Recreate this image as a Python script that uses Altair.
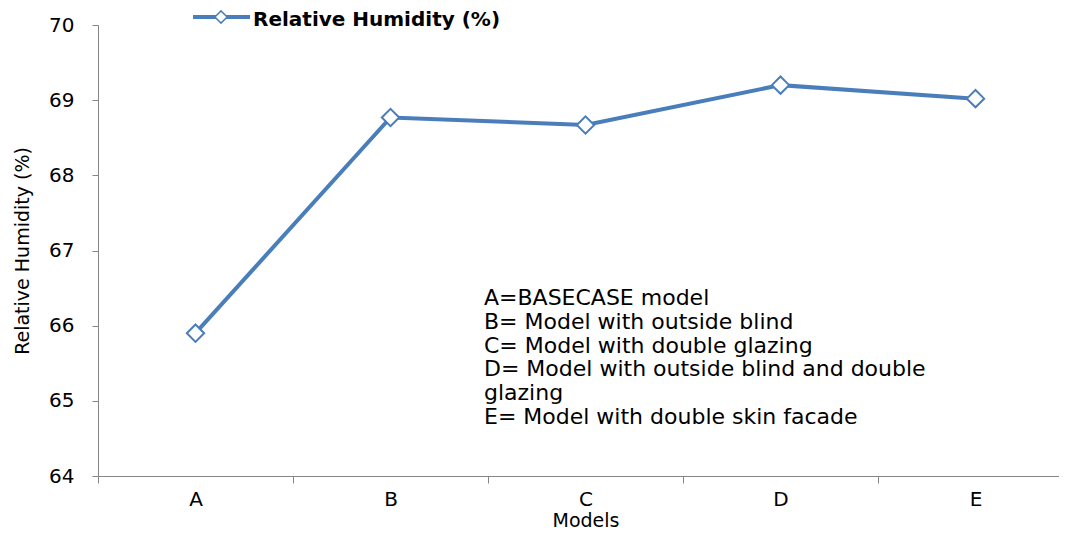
import altair as alt
import pandas as pd

models = ["A", "B", "C", "D", "E"]
rh_values = [65.90, 68.77, 68.67, 69.20, 69.02]
y_ticks = [64, 65, 66, 67, 68, 69, 70]
notes = [
    "A=BASECASE model",
    "B= Model with outside blind",
    "C= Model with double glazing",
    "D= Model with outside blind and double",
    "glazing",
    "E= Model with double skin facade",
]
legend_label = "Relative Humidity (%)"

BLUE = "#4a7ebb"
AXIS = "#868686"
FONT = "DejaVu Sans"

df = pd.DataFrame({"Model": models, "RH": rh_values})
one = pd.DataFrame({"k": [0]})

x_enc = alt.X(
    "Model:N",
    sort=models,
    scale=alt.Scale(type="band", paddingInner=0, paddingOuter=0),
    axis=alt.Axis(
        title="Models",
        labelAngle=0,
        tickBand="extent",
        tickSize=7,
        labelPadding=6,
        labelFontSize=20,
        labelColor="black",
        titleFontSize=19,
        titleFontWeight="normal",
        titleColor="black",
        titleY=44,
        titleBaseline="middle",
        domainColor=AXIS,
        tickColor=AXIS,
        grid=False,
    ),
)
y_enc = alt.Y(
    "RH:Q",
    scale=alt.Scale(domain=[64, 70], nice=False, zero=False),
    axis=alt.Axis(
        values=y_ticks,
        format="d",
        title="Relative Humidity (%)",
        tickSize=6,
        labelPadding=18,
        labelFontSize=20,
        labelColor="black",
        titleFontSize=19,
        titleFontWeight="normal",
        titleColor="black",
        titleX=-76,
        titleY=225.5,
        titleAngle=-90,
        titleAlign="center",
        titleBaseline="middle",
        domainColor=AXIS,
        tickColor=AXIS,
        grid=False,
    ),
)

line = alt.Chart(df).mark_line(color=BLUE, strokeWidth=4).encode(x=x_enc, y=y_enc)
points = alt.Chart(df).mark_point(
    shape="diamond", filled=True, fill="white", stroke=BLUE, strokeWidth=2, size=300, opacity=1
).encode(x=x_enc, y=y_enc)

note_text = alt.Chart(one).mark_text(
    text=notes, align="left", baseline="top", fontSize=22, lineHeight=23.8, color="black", font=FONT
).encode(x=alt.value(386), y=alt.value(263))

leg_rule = alt.Chart(one).mark_rule(color=BLUE, strokeWidth=4).encode(
    x=alt.value(95), x2=alt.value(152), y=alt.value(-8)
)
leg_point = alt.Chart(one).mark_point(
    shape="diamond", filled=True, fill="white", stroke=BLUE, strokeWidth=1.5, size=150, opacity=1
).encode(x=alt.value(123), y=alt.value(-8))
leg_text = alt.Chart(one).mark_text(
    text=legend_label, align="left", baseline="middle", fontSize=20, fontWeight="bold", color="black", font=FONT
).encode(x=alt.value(155), y=alt.value(-5))

chart = (
    alt.layer(line, points, note_text, leg_rule, leg_point, leg_text)
    .properties(
        width=975,
        height=451,
        autosize=alt.AutoSizeParams(type="none"),
        padding={"left": 90, "top": 17, "right": -14, "bottom": 55},
    )
    .configure(font=FONT)
    .configure_view(stroke=None)
)

chart.save("out.html", embed_options={"renderer": "svg", "actions": False})
